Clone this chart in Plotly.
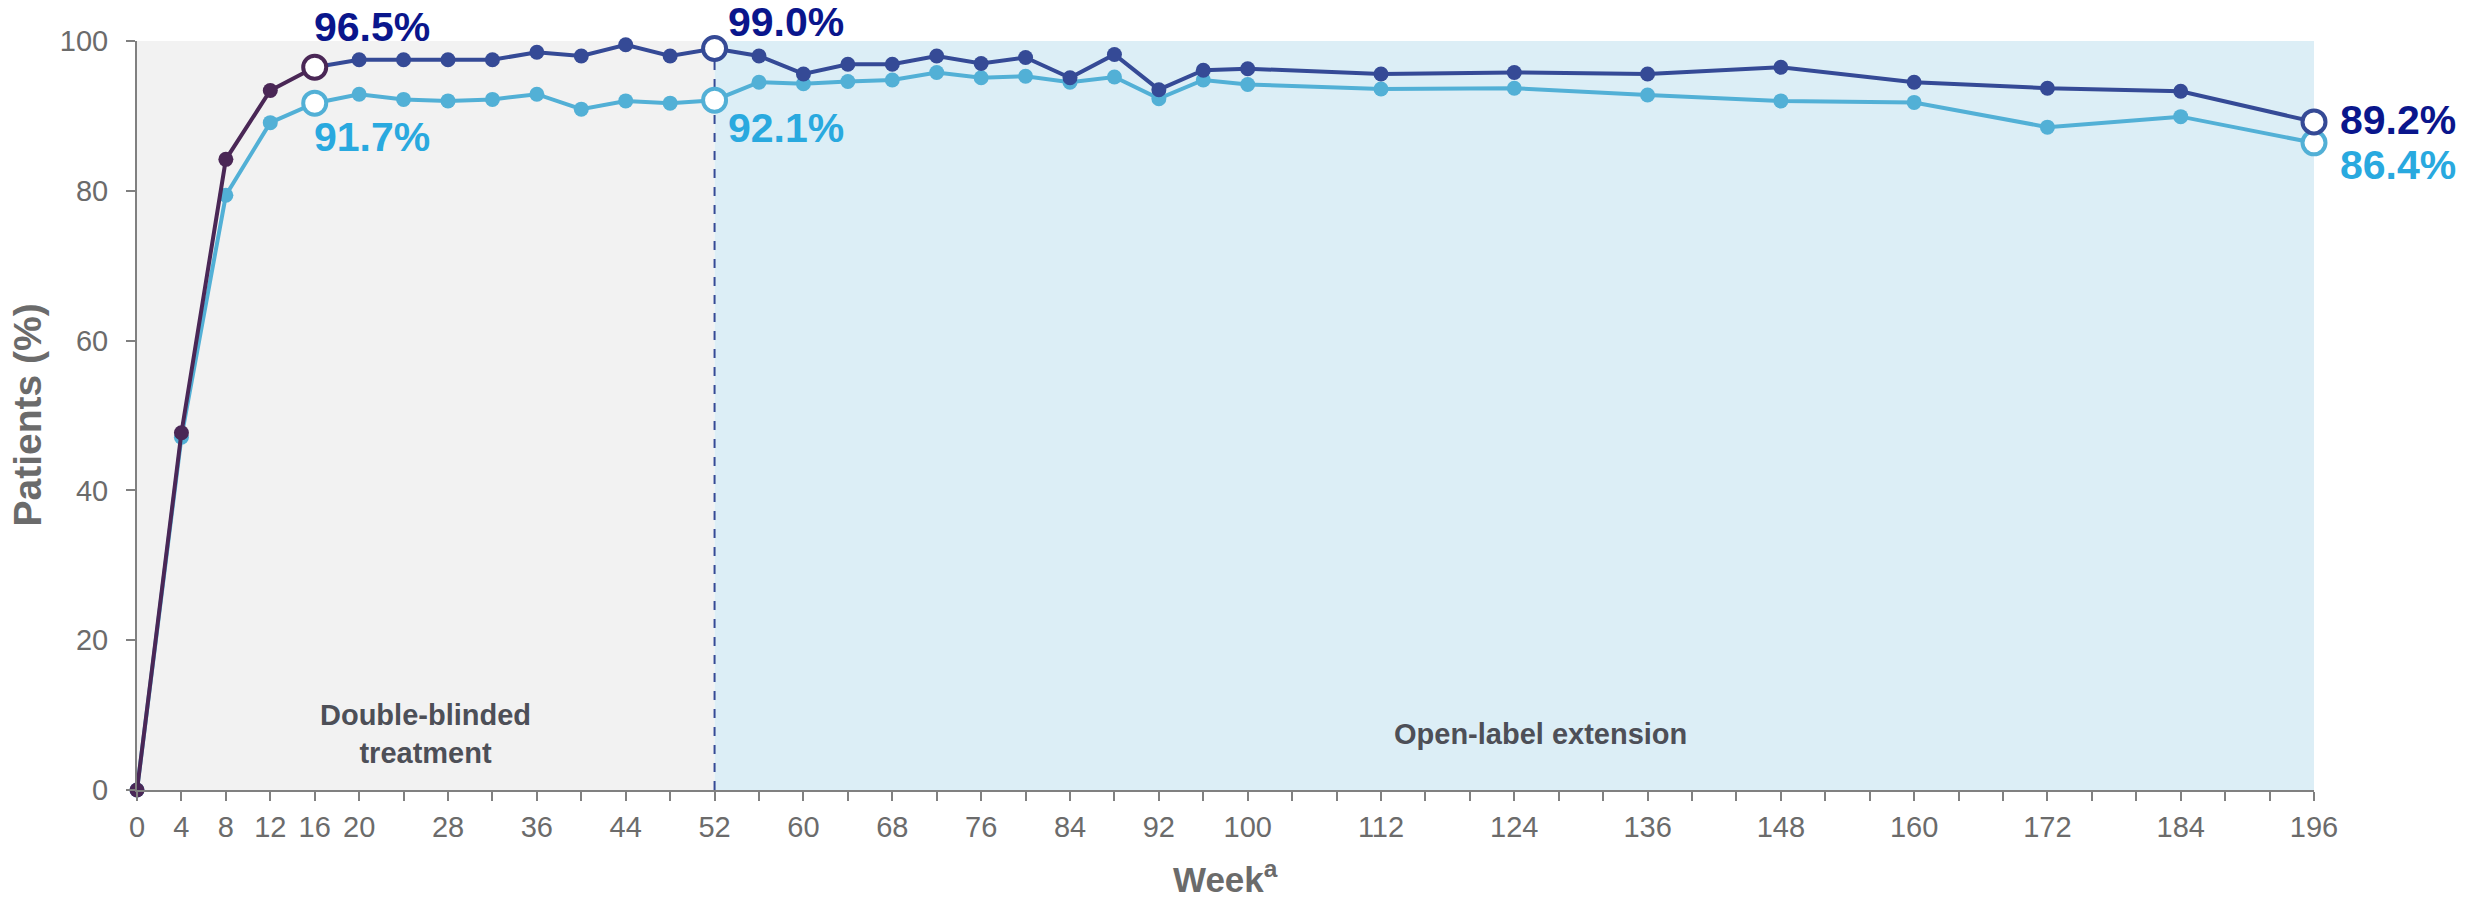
import plotly.graph_objects as go

# ---- data ----
weeks = [0, 4, 8, 12, 16, 20, 24, 28, 32, 36, 40, 44, 48, 52, 56, 60, 64, 68, 72, 76,
         80, 84, 88, 92, 96, 100, 112, 124, 136, 148, 160, 172, 184, 196]
dark_vals = [0, 47.7, 84.2, 93.4, 96.5, 97.5, 97.5, 97.5, 97.5, 98.5, 98.0, 99.5, 98.0, 99.0,
             98.0, 95.6, 96.9, 96.9, 98.0, 97.0, 97.8, 95.1, 98.2, 93.5, 96.1, 96.3,
             95.6, 95.8, 95.6, 96.5, 94.5, 93.7, 93.3, 89.2]
light_vals = [0, 47.1, 79.4, 89.1, 91.7, 92.9, 92.2, 92.0, 92.2, 92.9, 90.9, 92.0, 91.7, 92.1,
              94.5, 94.3, 94.6, 94.8, 95.8, 95.1, 95.3, 94.5, 95.2, 92.3, 94.8, 94.2,
              93.6, 93.7, 92.8, 92.0, 91.8, 88.5, 89.9, 86.4]
highlight_weeks = [16, 52, 196]
dark_labels = ["96.5%", "99.0%", "89.2%"]
light_labels = ["91.7%", "92.1%", "86.4%"]
minor_tick_weeks = list(range(0, 197, 4))
labeled_ticks = [0, 4, 8, 12, 16, 20, 28, 36, 44, 52, 60, 68, 76, 84, 92, 100,
                 112, 124, 136, 148, 160, 172, 184, 196]
y_ticks = [0, 20, 40, 60, 80, 100]
phase_edges = [0, 52, 196]
phase_names = ["Double-blinded<br>treatment", "Open-label extension"]

# ---- styles ----
PURPLE = "#4a2756"
DARKBLUE = "#354a96"
LIGHTBLUE = "#52b0d6"
NAVY_TXT = "#0a168c"
LIGHT_TXT = "#29a9df"
GRAY = "#6b6b6b"
AXIS = "#808080"
FONT = "Liberation Sans, Arial, sans-serif"

split = weeks.index(16)

def val_at(wk, vals):
    return vals[weeks.index(wk)]

fig = go.Figure()

# light series
fig.add_trace(go.Scatter(x=weeks, y=light_vals, mode="lines+markers",
                         line=dict(color=LIGHTBLUE, width=4),
                         marker=dict(size=15, color=LIGHTBLUE), cliponaxis=False))
fig.add_trace(go.Scatter(x=highlight_weeks, y=[val_at(w, light_vals) for w in highlight_weeks],
                         mode="markers",
                         marker=dict(size=23, color="white", line=dict(color=LIGHTBLUE, width=4)),
                         cliponaxis=False))
# dark series: early part purple, later blue
fig.add_trace(go.Scatter(x=weeks[:split + 1], y=dark_vals[:split + 1], mode="lines+markers",
                         line=dict(color=PURPLE, width=4),
                         marker=dict(size=15, color=PURPLE), cliponaxis=False))
fig.add_trace(go.Scatter(x=weeks[split:], y=dark_vals[split:], mode="lines+markers",
                         line=dict(color=DARKBLUE, width=4),
                         marker=dict(size=15, color=DARKBLUE), cliponaxis=False))
fig.add_trace(go.Scatter(x=highlight_weeks, y=[val_at(w, dark_vals) for w in highlight_weeks],
                         mode="markers",
                         marker=dict(size=23, color="white",
                                     line=dict(color=[PURPLE, DARKBLUE, DARKBLUE], width=4)),
                         cliponaxis=False))

# background phases
fig.add_shape(type="rect", xref="x", yref="y", x0=phase_edges[0], x1=phase_edges[1], y0=0, y1=100,
              fillcolor="#f2f2f2", line_width=0, layer="below")
fig.add_shape(type="rect", xref="x", yref="y", x0=phase_edges[1], x1=phase_edges[2], y0=0, y1=100,
              fillcolor="#dceef6", line_width=0, layer="below")
fig.add_shape(type="line", xref="x", yref="y", x0=52, x1=52, y0=0, y1=val_at(52, dark_vals),
              line=dict(color=DARKBLUE, width=2, dash="dash"), layer="below")

# value labels
dark_shifts = [(-3, 40), (11, 26), (24, 2)]
light_shifts = [(-3, -34), (11, -28), (24, -22)]
for w, t, (dx, dy) in zip(highlight_weeks, dark_labels, dark_shifts):
    fig.add_annotation(x=w, y=val_at(w, dark_vals), text=t, showarrow=False,
                       xanchor="left", yanchor="middle", xshift=dx, yshift=dy,
                       font=dict(family=FONT, size=41, color=NAVY_TXT, weight="bold"))
for w, t, (dx, dy) in zip(highlight_weeks, light_labels, light_shifts):
    fig.add_annotation(x=w, y=val_at(w, light_vals), text=t, showarrow=False,
                       xanchor="left", yanchor="middle", xshift=dx, yshift=dy,
                       font=dict(family=FONT, size=41, color=LIGHT_TXT, weight="bold"))

# phase names
fig.add_annotation(x=(phase_edges[0] + phase_edges[1]) / 2, y=7.5, text=phase_names[0],
                   showarrow=False, xanchor="center", yanchor="middle",
                   font=dict(family=FONT, size=29, color="#4d4f57", weight="bold"))
fig.add_annotation(x=126.4, y=7.5, text=phase_names[1],
                   showarrow=False, xanchor="center", yanchor="middle",
                   font=dict(family=FONT, size=29, color="#4d4f57", weight="bold"))

# axis titles
fig.add_annotation(xref="paper", yref="y", x=0, y=50, xshift=-110, text="Patients (%)",
                   textangle=-90, showarrow=False, xanchor="center", yanchor="middle",
                   font=dict(family=FONT, size=39, color=GRAY, weight="bold"))
fig.add_annotation(xref="paper", yref="paper", x=0.5, y=0, yshift=-111,
                   text="Week<sup>a</sup>",
                   showarrow=False, xanchor="center", yanchor="bottom",
                   font=dict(family=FONT, size=35, color=GRAY, weight="bold"))

fig.update_layout(
    width=2476, height=901,
    margin=dict(l=137, r=162, t=41, b=111),
    plot_bgcolor="white", paper_bgcolor="white",
    showlegend=False,
    font=dict(family=FONT, color=GRAY),
)
fig.update_xaxes(range=[0, 196], showgrid=False, zeroline=False,
                 showline=True, linecolor=AXIS, linewidth=2,
                 ticks="outside", ticklen=9, tickwidth=2, tickcolor=AXIS,
                 tickmode="array", tickvals=labeled_ticks,
                 ticktext=[str(w) for w in labeled_ticks],
                 minor=dict(tickmode="array", tickvals=minor_tick_weeks, ticks="outside",
                            ticklen=9, tickwidth=2, tickcolor=AXIS, showgrid=False),
                 tickfont=dict(family=FONT, size=29, color=GRAY), ticklabelstandoff=1)
fig.update_yaxes(range=[0, 100], showgrid=False, zeroline=False,
                 showline=True, linecolor=AXIS, linewidth=2,
                 ticks="outside", ticklen=9, tickwidth=2, tickcolor=AXIS,
                 tickvals=y_ticks,
                 tickfont=dict(family=FONT, size=29, color=GRAY), ticklabelstandoff=12)

fig.write_html("out.html", config={"displayModeBar": False},
               post_script="document.body.style.margin='0';document.body.style.overflow='hidden';")
